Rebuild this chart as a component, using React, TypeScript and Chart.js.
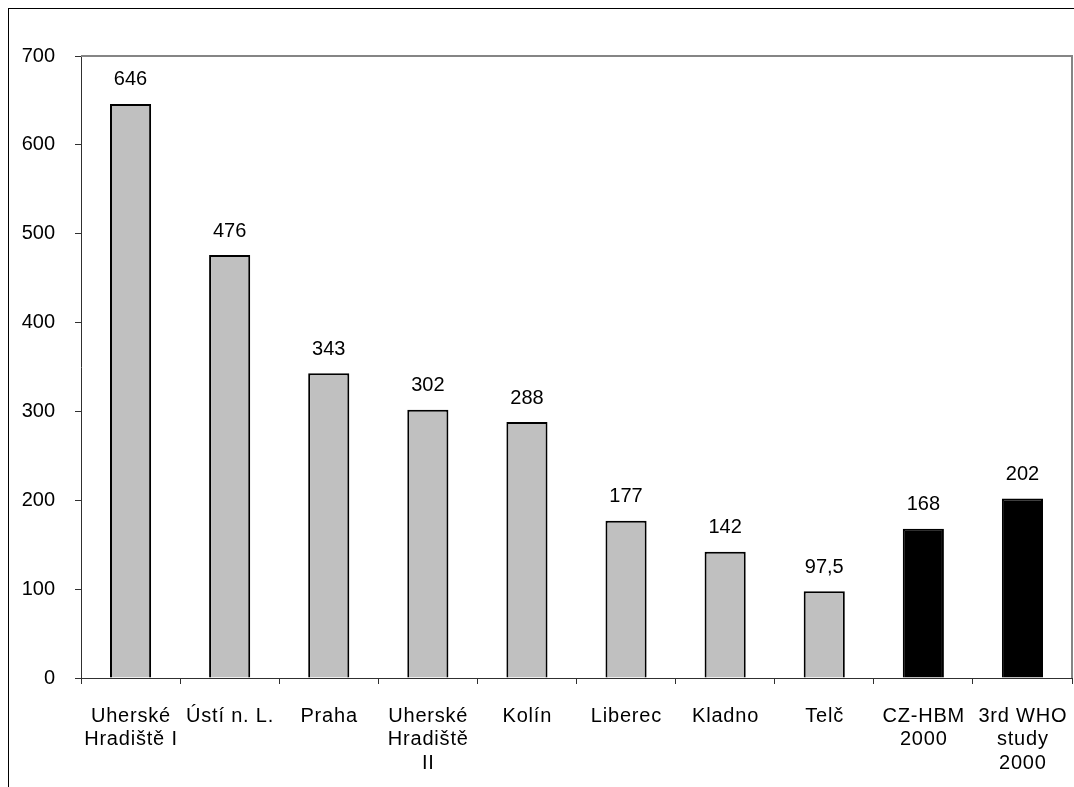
import React, { useEffect, useRef } from "react";
import { Chart, registerables } from "chart.js";

Chart.register(...registerables);

const categories: string[][] = [
  ["Uherské", "Hradiště I"],
  ["Ústí n. L."],
  ["Praha"],
  ["Uherské", "Hradiště", "II"],
  ["Kolín"],
  ["Liberec"],
  ["Kladno"],
  ["Telč"],
  ["CZ-HBM", "2000"],
  ["3rd WHO", "study", "2000"],
];
const values = [646, 476, 343, 302, 288, 177, 142, 97.5, 168, 202];
const valueLabels = ["646", "476", "343", "302", "288", "177", "142", "97,5", "168", "202"];
const reference = [false, false, false, false, false, false, false, false, true, true];
const yTicks = [0, 100, 200, 300, 400, 500, 600, 700];

const FONT = "'Liberation Sans', Arial, sans-serif";

// Draws the value above each bar, the category labels and the grey frame on the top/right of the plot
const extrasPlugin = {
  id: "extras",
  afterDatasetsDraw(chart: any) {
    const ctx = chart.ctx;
    const meta = chart.getDatasetMeta(0);
    ctx.save();
    ctx.font = `20px ${FONT}`;
    ctx.fillStyle = "#000";
    ctx.textAlign = "center";
    ctx.textBaseline = "middle";
    meta.data.forEach((bar: any, i: number) => {
      ctx.fillText(valueLabels[i], bar.x, bar.y - 24);
    });

    // category labels, centred under each bar, one line per entry
    const xScale = chart.scales.x;
    const lineHeight = 23.5;
    const firstLine = chart.chartArea.bottom + 38;
    (ctx as any).letterSpacing = "0.8px";
    categories.forEach((lines, i) => {
      const x = xScale.getPixelForTick(i) + 0.4;
      lines.forEach((line, j) => {
        ctx.fillText(line, x, firstLine + j * lineHeight);
      });
    });
    (ctx as any).letterSpacing = "0px";

    const { left, top, right, bottom } = chart.chartArea;
    ctx.strokeStyle = "#858585";
    ctx.lineWidth = 2;
    ctx.beginPath();
    ctx.moveTo(left, top);
    ctx.lineTo(right, top);
    ctx.lineTo(right, bottom);
    ctx.stroke();
    ctx.restore();
  },
};

export default function App() {
  const ref = useRef<HTMLCanvasElement>(null);

  useEffect(() => {
    if (!ref.current) return;
    const chart = new Chart(ref.current, {
      type: "bar",
      data: {
        labels: categories.map((c) => c.join(" ")),
        datasets: [
          {
            data: values,
            backgroundColor: reference.map((r) => (r ? "#000000" : "#C0C0C0")),
            borderColor: "#000000",
            borderWidth: 2,
            borderSkipped: "bottom",
            categoryPercentage: 1,
            barPercentage: 0.415,
          },
        ],
      },
      options: {
        animation: false,
        responsive: false,
        maintainAspectRatio: false,
        layout: { padding: { top: 47, right: 2, left: 0, bottom: 0 } },
        plugins: {
          legend: { display: false },
          tooltip: { enabled: false },
        },
        scales: {
          x: {
            grid: {
              display: true,
              drawOnChartArea: false,
              tickLength: 6,
              tickColor: "#303030",
              offset: true,
            },
            border: { color: "#303030", width: 1 },
            ticks: { display: false },
            afterFit(scale: any) {
              scale.height = 109;
            },
          },
          y: {
            min: 0,
            max: 700,
            afterBuildTicks(scale: any) {
              scale.ticks = yTicks.map((v) => ({ value: v }));
            },
            grid: {
              display: true,
              drawOnChartArea: false,
              tickLength: 6,
              tickColor: "#303030",
            },
            border: { color: "#303030", width: 1 },
            ticks: {
              color: "#000",
              font: { family: FONT, size: 20 },
              padding: 20,
            },
            afterFit(scale: any) {
              scale.width = 72;
            },
          },
        },
      },
      plugins: [extrasPlugin],
    });
    return () => chart.destroy();
  }, []);

  return (
    <div
      style={{
        position: "fixed",
        top: 8,
        left: 8,
        width: 1066,
        height: 779,
        borderTop: "1px solid #000",
        borderLeft: "1px solid #000",
        background: "#fff",
        boxSizing: "border-box",
      }}
    >
      <canvas ref={ref} width={1065} height={778} style={{ display: "block" }} />
    </div>
  );
}
